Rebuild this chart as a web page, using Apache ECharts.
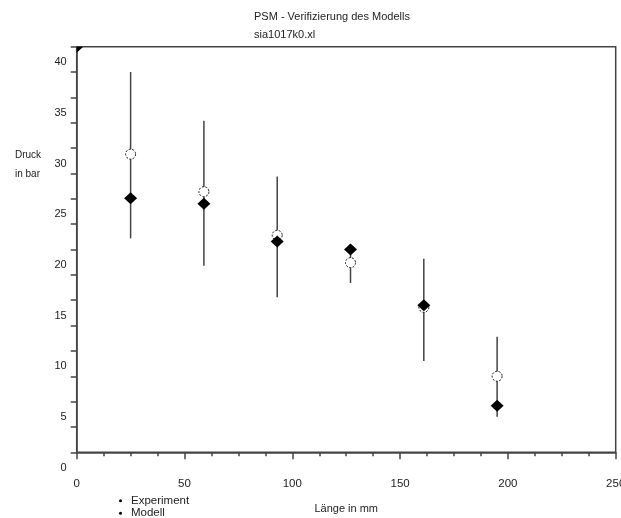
<!DOCTYPE html>
<html>
<head>
<meta charset="utf-8">
<script src="https://cdn.jsdelivr.net/npm/echarts@6/dist/echarts.min.js"></script>
<style>
  html, body { margin: 0; padding: 0; background: #fff; }
  #chart { width: 621px; height: 518px; }
</style>
</head>
<body>
<div id="chart"></div>
<script>
// Measurement positions along the part (mm)
const positions = [25, 59, 93, 127, 161, 195];
// Measured pressure (bar) with the lower / upper end of the scatter band
const experiment = [29.4, 25.7, 21.4, 18.7, 14.3, 7.5];
const experimentLow = [21.1, 18.4, 15.3, 16.7, 9.0, 3.5];
const experimentHigh = [37.5, 32.7, 27.2, 20.3, 19.1, 11.4];
// Model prediction (bar), including the inlet value at 0 mm
const modellPositions = [0, 25, 59, 93, 127, 161, 195];
const modell = [40, 25.05, 24.5, 20.8, 20.0, 14.5, 4.6];
// Axis ranges
const xRange = [0, 250];
const yRange = [0, 40];

const FONT = 'Liberation Sans, Arial, sans-serif';
const AXIS_COLOR = '#444';
const TEXT_COLOR = '#222';

const chart = echarts.init(document.getElementById('chart'), null, { renderer: 'canvas' });

const errorData = positions.map((x, i) => [x, experimentLow[i], experimentHigh[i]]);
const experimentData = positions.map((x, i) => [x, experiment[i]]);
const modellData = modellPositions.map((x, i) => [x, modell[i]]);

// one legend entry per line, stacked under the plot
function legendEntry(name, top) {
  return {
    orient: 'vertical',
    left: 119,
    top: top,
    padding: 0,
    itemWidth: 3,
    itemHeight: 3,
    itemGap: 0,
    selectedMode: false,
    textStyle: { fontSize: 11.5, color: TEXT_COLOR, lineHeight: 12.6, padding: [0, 0, 0, 4], fontFamily: FONT },
    data: [{ name: name, icon: 'circle', itemStyle: { color: '#000', borderWidth: 0 } }]
  };
}

chart.setOption({
  animation: false,
  backgroundColor: '#fff',
  textStyle: { fontFamily: FONT },
  title: [
    {
      text: 'PSM - Verifizierung des Modells\nsia1017k0.xl',
      left: 249,
      top: 2.5,
      textStyle: { fontSize: 11, fontWeight: 'normal', color: TEXT_COLOR, lineHeight: 18.5, fontFamily: FONT }
    },
    {
      text: 'Druck\nin bar',
      left: 10,
      top: 141,
      textStyle: { fontSize: 10, fontWeight: 'normal', color: TEXT_COLOR, lineHeight: 18.5, fontFamily: FONT }
    }
  ],
  legend: [legendEntry('Experiment', 494.5), legendEntry('Modell', 507)],
  grid: {
    left: 76.7,
    right: 5.3,
    top: 46.7,
    bottom: 65.7,
    outerBoundsMode: 'none',
    containLabel: false,
    show: true,
    borderColor: AXIS_COLOR,
    borderWidth: 1.5,
    backgroundColor: 'transparent'
  },
  xAxis: {
    type: 'value',
    min: xRange[0],
    max: xRange[1],
    interval: 50,
    name: 'Länge in mm',
    nameLocation: 'middle',
    nameGap: 51,
    nameTextStyle: { fontSize: 11, color: TEXT_COLOR, fontFamily: FONT },
    axisLine: { show: true, lineStyle: { color: AXIS_COLOR, width: 1.5 } },
    axisTick: { show: true, length: 7, lineStyle: { color: AXIS_COLOR, width: 1.5 } },
    minorTick: { show: true, splitNumber: 4, length: 4, lineStyle: { color: AXIS_COLOR, width: 1.5 } },
    splitLine: { show: false },
    axisLabel: { margin: 26, fontSize: 11.5, color: TEXT_COLOR, fontFamily: FONT, showMaxLabel: true, showMinLabel: true }
  },
  yAxis: {
    type: 'value',
    min: yRange[0],
    max: yRange[1],
    interval: 5,
    axisLine: { show: true, lineStyle: { color: AXIS_COLOR, width: 1.5 } },
    axisTick: { show: true, length: 6, lineStyle: { color: AXIS_COLOR, width: 1.5 } },
    minorTick: { show: true, splitNumber: 2, length: 6, lineStyle: { color: AXIS_COLOR, width: 1.5 } },
    splitLine: { show: false },
    axisLabel: {
      margin: 10,
      fontSize: 11,
      color: TEXT_COLOR,
      fontFamily: FONT,
      // labels sit half a step below their tick
      verticalAlign: 'top',
      lineHeight: 31,
      showMaxLabel: true,
      showMinLabel: true
    }
  },
  series: [
    {
      name: 'Streubereich',
      type: 'custom',
      z: 2,
      silent: true,
      data: errorData,
      renderItem: function (params, api) {
        const top = api.coord([api.value(0), api.value(2)]);
        const bottom = api.coord([api.value(0), api.value(1)]);
        return {
          type: 'line',
          shape: { x1: top[0], y1: top[1], x2: bottom[0], y2: bottom[1] },
          style: { stroke: AXIS_COLOR, lineWidth: 1.5 }
        };
      }
    },
    {
      name: 'Experiment',
      type: 'scatter',
      z: 3,
      symbol: 'circle',
      symbolSize: 10,
      data: experimentData,
      itemStyle: { color: '#fff', borderColor: '#111', borderWidth: 1, borderType: [2, 1.5], opacity: 1 }
    },
    {
      name: 'Modell',
      type: 'custom',
      z: 4,
      data: modellData,
      itemStyle: { color: '#000' },
      renderItem: function (params, api) {
        const c = api.coord([api.value(0), api.value(1)]);
        const rx = 6.5, ry = 6;
        const cs = params.coordSys;
        // keep the marker inside the plotting area, so points on the frame are cut off
        const clamp = function (p) {
          return [
            Math.min(Math.max(p[0], cs.x), cs.x + cs.width),
            Math.min(Math.max(p[1], cs.y), cs.y + cs.height)
          ];
        };
        const pts = [[c[0], c[1] - ry], [c[0] + rx, c[1]], [c[0], c[1] + ry], [c[0] - rx, c[1]]].map(clamp);
        return {
          type: 'polygon',
          shape: { points: pts },
          style: { fill: '#000' }
        };
      }
    }
  ]
});
</script>
</body>
</html>
